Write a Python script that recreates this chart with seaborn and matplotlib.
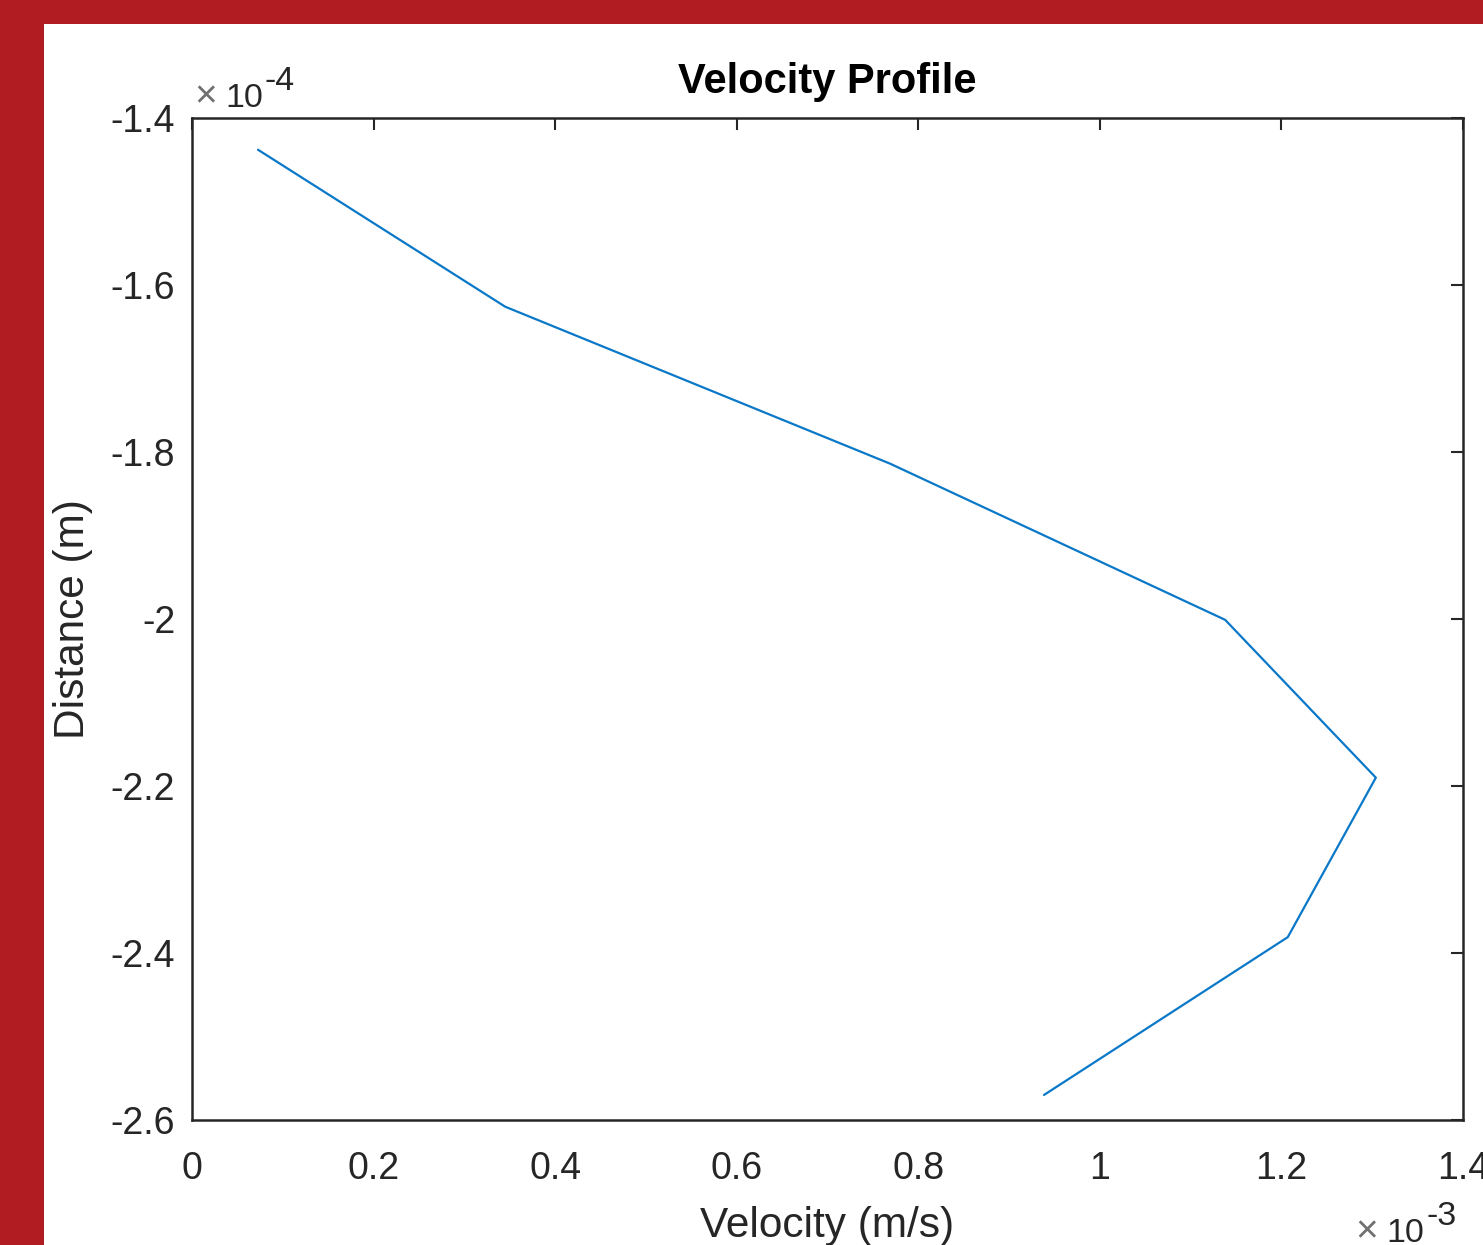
import numpy as np
import pandas as pd
import matplotlib
matplotlib.use("Agg")
import matplotlib.pyplot as plt
import seaborn as sns
from matplotlib.ticker import FuncFormatter
from matplotlib.patches import Rectangle

# Data (SI units)
velocity = [0.0727e-3, 0.345e-3, 0.769e-3, 1.138e-3, 1.304e-3, 1.207e-3, 0.9385e-3]
distance = [-1.438e-4, -1.626e-4, -1.814e-4, -2.001e-4, -2.190e-4, -2.381e-4, -2.570e-4]

x_ticks = [0, 0.2e-3, 0.4e-3, 0.6e-3, 0.8e-3, 1.0e-3, 1.2e-3, 1.4e-3]
y_ticks = [-2.6e-4, -2.4e-4, -2.2e-4, -2.0e-4, -1.8e-4, -1.6e-4, -1.4e-4]

# Configs
W, H = 1483, 1245
BORDER = "#B01C22"
LINE = "#0a78c8"
DARK = "#262626"

sns.set_style("white")
plt.rcParams["font.family"] = ["Liberation Sans", "DejaVu Sans"]

df = pd.DataFrame({"velocity": velocity, "distance": distance})

fig = plt.figure(figsize=(W / 100, H / 100), dpi=100)
fig.patch.set_facecolor(BORDER)
# white panel inside the red frame
fig.patches.append(Rectangle((44 / W, 0), 1, 1 - 24 / H, transform=fig.transFigure,
                             facecolor="white", edgecolor="none", zorder=-5))

ax = fig.add_axes([192 / W, 1 - 1120 / H, (1463 - 192) / W, (1120 - 118) / H])
ax.set_facecolor("white")

sns.lineplot(data=df, x="velocity", y="distance", sort=False, estimator=None,
             color=LINE, linewidth=1.6, ax=ax)

ax.set_xlim(0, 1.4e-3)
ax.set_ylim(-2.6e-4, -1.4e-4)
ax.set_xticks(x_ticks)
ax.set_yticks(y_ticks)
ax.xaxis.set_major_formatter(FuncFormatter(lambda v, p: f"{v / 1e-3:g}"))
ax.yaxis.set_major_formatter(FuncFormatter(lambda v, p: f"{v / 1e-4:g}"))

for s in ax.spines.values():
    s.set_visible(True)
    s.set_color(DARK)
    s.set_linewidth(1.8)

ax.tick_params(direction="in", length=8.5, width=1.5, colors=DARK,
               top=True, right=True, labelsize=27)
ax.tick_params(axis="x", pad=22)
ax.tick_params(axis="y", pad=12)

ax.set_title("Velocity Profile", fontsize=30, fontweight="bold", color="black", pad=18)
ax.set_xlabel("Velocity (m/s)", fontsize=30.5, color=DARK)
ax.set_ylabel("Distance (m)", fontsize=30.5, color=DARK)
ax.xaxis.set_label_coords(0.5, -0.086)
ax.yaxis.set_label_coords(-0.078, 0.5)


def exponent_label(x_times, x_ten, x_exp, y_base, exp):
    # MATLAB style "x10^n" written in pixel positions of the figure
    fig.text(x_times / W, 1 - y_base / H, "\u00d7", fontsize=28, color="#707070",
             ha="left", va="baseline")
    fig.text(x_ten / W, 1 - y_base / H, "10", fontsize=24.5, color=DARK,
             ha="left", va="baseline")
    fig.text(x_exp / W, 1 - (y_base - 17) / H, exp, fontsize=24.5, color=DARK,
             ha="left", va="baseline")


exponent_label(194, 225, 265, 107, "-4")
exponent_label(1355, 1386, 1427, 1242, "-3")

fig.savefig("out.png", dpi=100, facecolor=fig.get_facecolor())
